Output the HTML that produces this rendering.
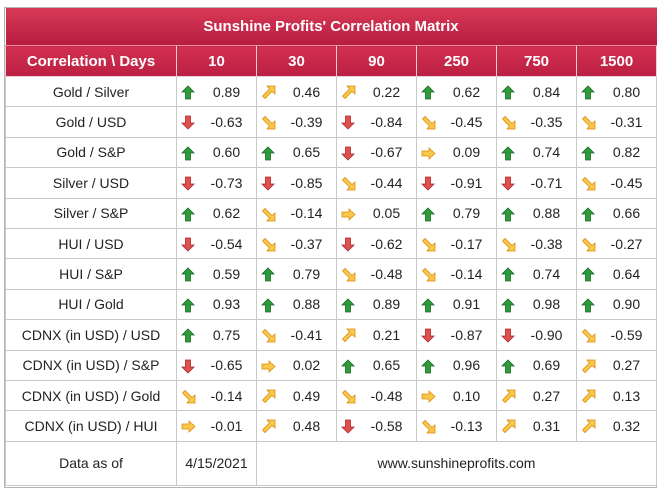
<!DOCTYPE html>
<html><head><meta charset="utf-8"><style>
body{margin:0;background:#fff;font-family:"Liberation Sans",Arial,sans-serif;}
#wrap{position:absolute;left:4px;top:7px;width:653px;height:481px;border:1px solid #b5b5b5;box-sizing:border-box;}
table{border-collapse:collapse;width:651px;table-layout:fixed;}
td{border:1px solid #c8c8c8;height:29.4px;padding:0;font-size:14px;color:#222;text-align:center;position:relative;}
.title td{height:37px;background:linear-gradient(#d83a55,#b81d42);color:#fff;font-weight:bold;font-size:15px;border:none;border-bottom:1px solid #e890a0;}
.hdr td{height:30px;background:linear-gradient(#d3304f,#bb1f43);color:#fff;font-weight:bold;font-size:15px;border-color:#ead0d6;border-top:none}
.v{padding-left:20px;}
svg.a{position:absolute;left:4px;top:8px;}
.foot td{height:43px;}
</style></head><body>
<div id="wrap">
<table id="t">
<colgroup><col style="width:171px"><col style="width:80px"><col style="width:80px"><col style="width:80px"><col style="width:80px"><col style="width:80px"><col style="width:80px"></colgroup>
<tr class="title"><td colspan="7">Sunshine Profits' Correlation Matrix</td></tr>
<tr class="hdr"><td>Correlation \ Days</td><td>10</td><td>30</td><td>90</td><td>250</td><td>750</td><td>1500</td></tr>
<tbody id="body"></tbody>
<tr class="foot"><td>Data as of</td><td>4/15/2021</td><td colspan="5">www.sunshineprofits.com</td></tr>
</table>
</div>
<script>
const pairs=["Gold / Silver","Gold / USD","Gold / S&P","Silver / USD","Silver / S&P","HUI / USD","HUI / S&P","HUI / Gold","CDNX (in USD) / USD","CDNX (in USD) / S&P","CDNX (in USD) / Gold","CDNX (in USD) / HUI"];
const values=[
["0.89","0.46","0.22","0.62","0.84","0.80"],
["-0.63","-0.39","-0.84","-0.45","-0.35","-0.31"],
["0.60","0.65","-0.67","0.09","0.74","0.82"],
["-0.73","-0.85","-0.44","-0.91","-0.71","-0.45"],
["0.62","-0.14","0.05","0.79","0.88","0.66"],
["-0.54","-0.37","-0.62","-0.17","-0.38","-0.27"],
["0.59","0.79","-0.48","-0.14","0.74","0.64"],
["0.93","0.88","0.89","0.91","0.98","0.90"],
["0.75","-0.41","0.21","-0.87","-0.90","-0.59"],
["-0.65","0.02","0.65","0.96","0.69","0.27"],
["-0.14","0.49","-0.48","0.10","0.27","0.13"],
["-0.01","0.48","-0.58","-0.13","0.31","0.32"]];
const arrows=[
["u","ne","ne","u","u","u"],
["d","se","d","se","se","se"],
["u","u","d","r","u","u"],
["d","d","se","d","d","se"],
["u","se","r","u","u","u"],
["d","se","d","se","se","se"],
["u","u","se","se","u","u"],
["u","u","u","u","u","u"],
["u","se","ne","d","d","se"],
["d","r","u","u","u","ne"],
["se","ne","se","r","ne","ne"],
["r","ne","d","se","ne","ne"]];
const shapes={
u:['<polygon points="7,1 13,7 9.5,7 9.5,14 4.5,14 4.5,7 1,7" fill="#2e9b3a" stroke="#1d6b25" stroke-width="0.8"/>'],
d:['<polygon points="7,14 13,8 9.5,8 9.5,1 4.5,1 4.5,8 1,8" fill="#e0504f" stroke="#a82b2a" stroke-width="0.8"/>'],
r:['<polygon points="14,7.5 8,2 8,5 1,5 1,10 8,10 8,13" fill="#f7c84a" stroke="#e08a10" stroke-width="0.8"/>'],
ne:['<polygon points="14,1 14,9 11,6.5 4,13.5 1.5,11 8.5,4 6,1" fill="#f7c84a" stroke="#e08a10" stroke-width="0.8"/>'],
se:['<polygon points="14,14 14,6 11,8.5 4,1.5 1.5,4 8.5,11 6,14" fill="#f7c84a" stroke="#e08a10" stroke-width="0.8"/>']};
const periods=["10","30","90","250","750","1500"];
const tb=document.getElementById('body');
pairs.forEach((p,i)=>{
 const tr=document.createElement('tr');
 
 
 const th=document.createElement('td');th.textContent=p;
 
 
 tr.appendChild(th);
 values[i].forEach((v,j)=>{
  const td=document.createElement('td');
  
  
  td.innerHTML='<svg class="a" width="15" height="15" viewBox="0 0 15 15">'+shapes[arrows[i][j]][0]+'</svg><span class="v">'+v+'</span>';
  tr.appendChild(td);
 });
 tb.appendChild(tr);
});
</script>
</body></html>
